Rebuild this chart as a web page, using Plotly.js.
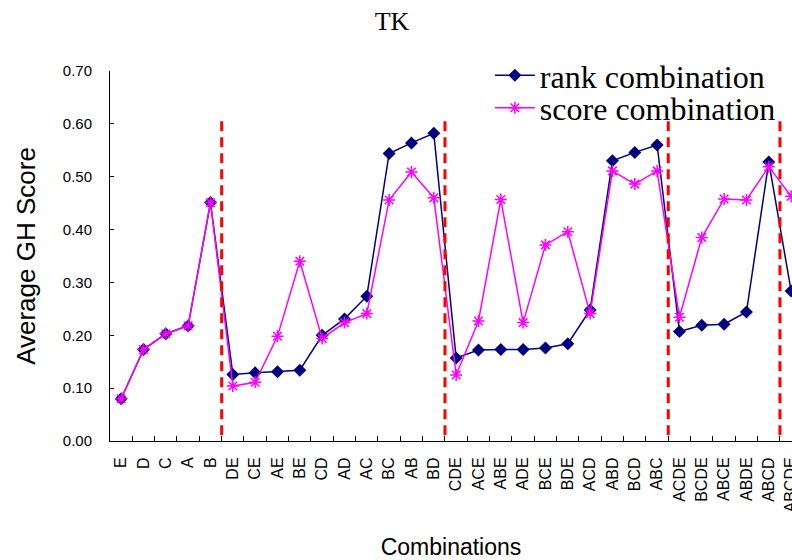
<!DOCTYPE html>
<html>
<head>
<meta charset="utf-8">
<script src="https://cdn.plot.ly/plotly-3.0.1.min.js"></script>
<style>
  html, body { margin: 0; padding: 0; background: #ffffff; }
  #chart { width: 792px; height: 560px; }
</style>
</head>
<body>
<div id="chart"></div>
<script>
// Feature combinations, ordered by group size (1 to 5 features)
const combinations = [
  'E', 'D', 'C', 'A', 'B',
  'DE', 'CE', 'AE', 'BE', 'CD', 'AD', 'AC', 'BC', 'AB', 'BD',
  'CDE', 'ACE', 'ABE', 'ADE', 'BCE', 'BDE', 'ACD', 'ABD', 'BCD', 'ABC',
  'ACDE', 'BCDE', 'ABCE', 'ABDE', 'ABCD',
  'ABCDE'
];

// Average GH score per combination method
const rankCombination = [
  0.080, 0.173, 0.203, 0.218, 0.451,
  0.126, 0.129, 0.131, 0.134, 0.200, 0.231, 0.274, 0.544, 0.564, 0.582,
  0.157, 0.172, 0.173, 0.173, 0.176, 0.184, 0.248, 0.530, 0.546, 0.560,
  0.207, 0.219, 0.221, 0.244, 0.528,
  0.284
];
const scoreCombination = [
  0.080, 0.173, 0.203, 0.218, 0.451,
  0.104, 0.111, 0.198, 0.340, 0.194, 0.224, 0.241, 0.456, 0.509, 0.460,
  0.125, 0.227, 0.457, 0.224, 0.371, 0.396, 0.241, 0.511, 0.486, 0.511,
  0.234, 0.385, 0.458, 0.456, 0.519,
  0.463
];

const yTickValues = [0, 0.1, 0.2, 0.3, 0.4, 0.5, 0.6, 0.7];
const yTickLabels = ['0.00', '0.10', '0.20', '0.30', '0.40', '0.50', '0.60', '0.70'];

const SANS = '"Liberation Sans", Arial, sans-serif';
const SERIF = '"Liberation Serif", "Times New Roman", serif';

// Dashed separators wherever the number of features in a combination changes
const separators = [];
for (let i = 1; i < combinations.length; i++) {
  if (combinations[i].length !== combinations[i - 1].length) separators.push(i - 0.5);
}
const separatorShapes = separators.map(x => ({
  type: 'line', xref: 'x', yref: 'y',
  x0: x, x1: x, y0: 0.605, y1: 0,
  line: { color: '#ff0000', width: 3, dash: '10px,6px' },
  layer: 'above'
}));

const traces = [
  {
    type: 'scatter', mode: 'lines+markers',
    name: 'rank combination',
    x: combinations, y: rankCombination,
    line: { color: '#000080', width: 1.5 },
    marker: { symbol: 'diamond', size: 10, color: '#000080' },
    legend: 'legend'
  },
  {
    type: 'scatter', mode: 'lines+markers',
    name: 'score combination',
    x: combinations, y: scoreCombination,
    line: { color: '#ff00ff', width: 1.5 },
    marker: { symbol: 'asterisk-open', size: 10, color: '#ff00ff', line: { color: '#ff00ff', width: 1.5 } },
    legend: 'legend2'
  }
];

const legendStyle = {
  xref: 'paper', yref: 'paper', xanchor: 'left', yanchor: 'middle',
  bgcolor: 'rgba(0,0,0,0)', borderwidth: 0,
  font: { family: SERIF, size: 32, color: '#000000' },
  itemwidth: 40
};

const layout = {
  width: 792, height: 560,
  paper_bgcolor: '#ffffff', plot_bgcolor: '#ffffff',
  margin: { l: 110, r: 0, t: 71, b: 119, autoexpand: false },
  title: {
    text: 'TK',
    font: { family: SERIF, size: 26, color: '#000000' },
    xref: 'container', yref: 'container',
    x: 0.495, xanchor: 'center', y: 0.962, yanchor: 'middle'
  },
  xaxis: {
    type: 'category',
    range: [-0.5, 30.04],
    showline: true, linecolor: '#000000', linewidth: 1,
    showgrid: false, zeroline: false,
    ticks: 'inside', ticklen: 5, tickcolor: '#000000', tickwidth: 1,
    tickson: 'boundaries',
    tickangle: -90,
    ticklabelstandoff: 9,
    tickfont: { family: SANS, size: 16, color: '#000000' },
    automargin: true,
    title: { text: 'Combinations', font: { family: SANS, size: 23, color: '#000000' }, standoff: 28 }
  },
  yaxis: {
    range: [0, 0.7],
    tickvals: yTickValues, ticktext: yTickLabels,
    showline: true, linecolor: '#000000', linewidth: 1,
    showgrid: false, zeroline: false,
    ticks: 'inside', ticklen: 4, tickcolor: '#000000', tickwidth: 1,
    ticklabelstandoff: 14,
    tickfont: { family: SANS, size: 15, color: '#000000' },
    automargin: false,
    title: { text: 'Average GH Score', font: { family: SANS, size: 26, color: '#000000' }, standoff: 19 }
  },
  legend: Object.assign({}, legendStyle, { x: 0.557, y: 0.988 }),
  legend2: Object.assign({}, legendStyle, { x: 0.557, y: 0.900 }),
  shapes: separatorShapes,
  showlegend: true
};

Plotly.newPlot('chart', traces, layout, { displayModeBar: false, staticPlot: true });
</script>
</body>
</html>
